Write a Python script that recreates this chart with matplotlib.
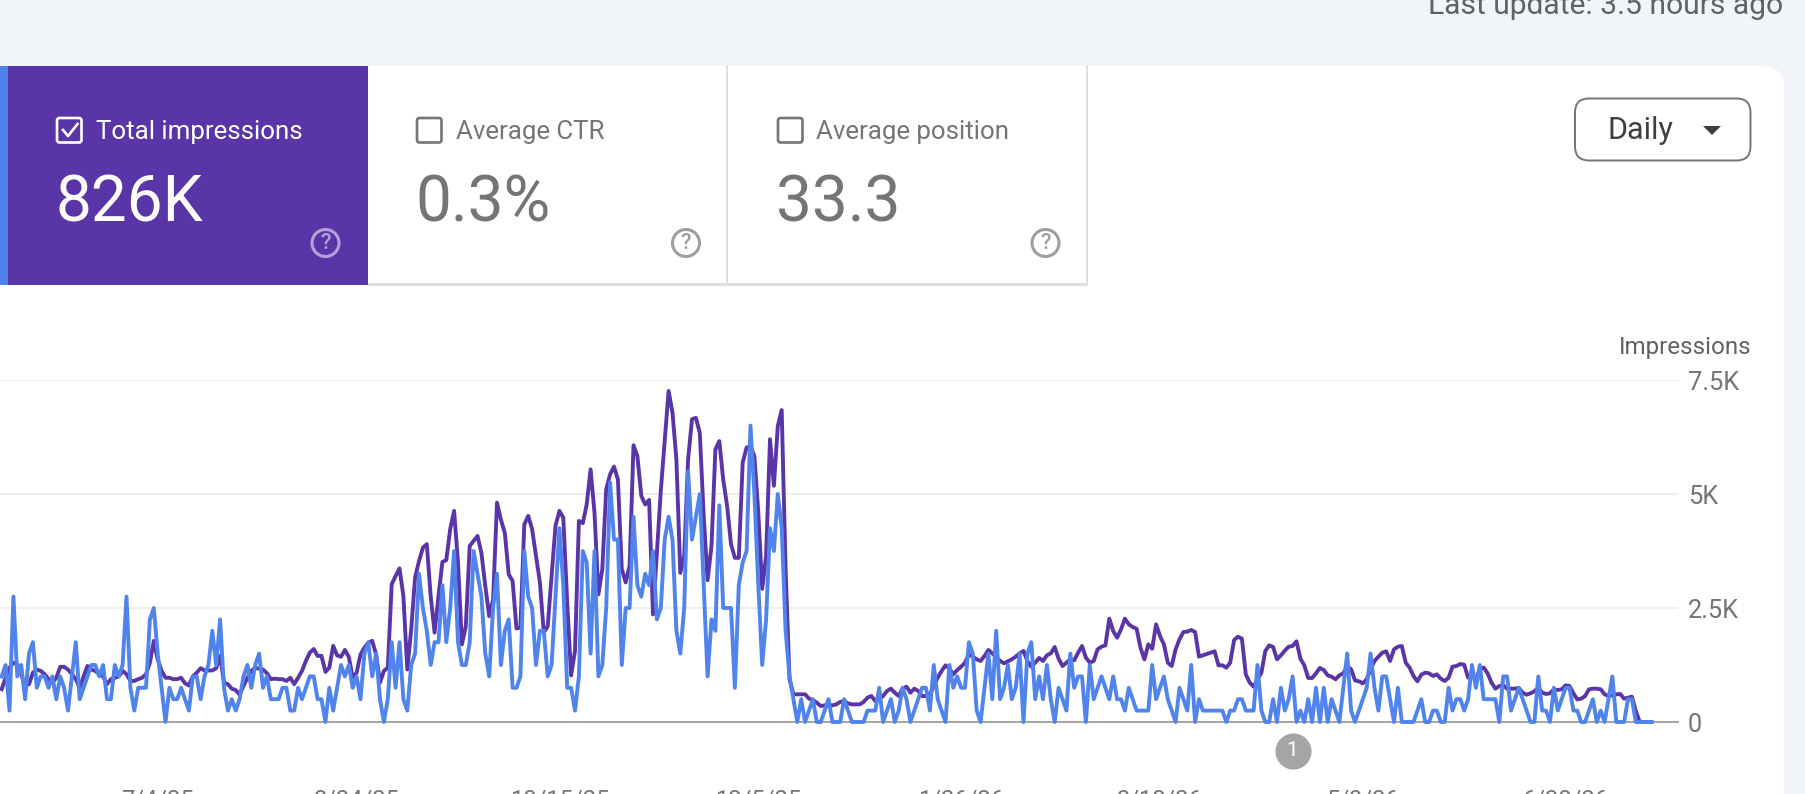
import matplotlib
matplotlib.use("Agg")
import matplotlib.pyplot as plt
import matplotlib.dates as mdates
import pandas as pd
from matplotlib.patches import Rectangle, FancyBboxPatch, Circle, Polygon

plt.rcParams['font.family'] = ['Roboto', 'DejaVu Sans']

START_DATE = "2025-05-25"
TICK_DATES = ["2025-07-04", "2025-08-24", "2025-10-15", "2025-12-05",
              "2026-01-26", "2026-03-18", "2026-05-09", "2026-06-30"]
TICK_LABELS = ["7/4/25", "8/24/25", "10/15/25", "12/5/25",
               "1/26/26", "3/18/26", "5/9/26", "6/30/26"]
Y_TICKS = [0, 2500, 5000, 7500]
Y_LABELS = ["0", "2.5K", "5K", "7.5K"]
ANNOTATION_DATE = "2026-04-21"

impressions_total = [
    720, 970, 1190, 1300, 1260, 1050, 790, 830, 1080, 1150, 1120, 1050, 940, 860, 970, 1210, 1210, 1150, 1050, 940,
    750, 1000, 1230, 1150, 1120, 1050, 1000, 830, 940, 970, 1000, 1120, 1050, 900, 900, 940, 970, 1050, 1300, 1780,
    1370, 1120, 970, 970, 940, 940, 970, 850, 800, 1000, 1080, 1180, 1130, 1130, 1130, 1180, 1450, 860, 830, 730,
    700, 600, 790, 970, 1120, 1190, 1170, 1150, 1070, 940, 950, 940, 940, 900, 970, 830, 970, 1120, 1340, 1520,
    1600, 1450, 1450, 1100, 1190, 1670, 1460, 1430, 1580, 1430, 970, 1080, 1480, 1630,
    1740, 1780, 1480, 860, 1120, 1190, 3020, 3200, 3370, 2760, 1150, 2030, 3170, 3530, 3820, 3900, 2760, 1960, 2760, 3510,
    3550, 4230, 4630, 3500, 1700, 2100, 3860, 3970, 4080, 3710, 2980, 2320, 2690, 4810, 4440, 4150, 3240, 3090, 2050, 2070,
    4330, 4520, 4230, 3640, 3060, 1960, 2100, 3200, 4300, 4630, 4480, 2620, 1020, 1560, 4410, 4360, 4770, 5540, 4590, 2800,
    3350, 5100, 5430, 5600, 5320, 3350, 3060, 3420, 6070, 5830, 4960, 4770, 4870, 2360, 3700, 5070, 6160, 7260, 6780, 5760,
    3270, 3640, 5760, 6640, 6670, 6340, 4520, 3110, 3860, 5980, 6160, 5320, 4740, 3900, 3600, 3600, 5690, 6020, 6040, 5830,
    4590, 2920, 3640, 6200, 5180, 6490, 6840, 3350, 940,
    607, 607, 607, 607, 512, 482, 424, 351, 365, 365, 365, 387, 439, 460, 409, 387, 387, 387, 439, 534,
    570, 460, 497, 570, 680, 731, 643, 570, 731, 775, 643, 731, 680, 570, 570, 607, 789, 972, 1118, 1243,
    1170, 1045, 1140, 1213, 1301, 1484, 1433, 1374, 1338, 1447, 1579, 1506, 1433, 1338, 1287, 1330, 1374, 1433, 1506, 1557,
    1338, 1213, 1301, 1404, 1338, 1462, 1506, 1645, 1389, 1228, 1301, 1374, 1352, 1520, 1667, 1411, 1301, 1338, 1594, 1652,
    1681, 2266, 1996, 1849, 2032, 2266, 2142, 2083, 2047, 1630, 1374, 1703, 1608, 2142, 1886, 1703, 1301, 1228, 1594, 1813,
    1974, 1981, 2018, 1974, 1433, 1462, 1491, 1520, 1550, 1243, 1243, 1192, 1301, 1798,
    1871, 1828, 1045, 863, 775, 936, 1082, 1557, 1681, 1645, 1374, 1462, 1564, 1652, 1667, 1769, 1389, 1243, 965, 965,
    1067, 1184, 1140, 1023, 994, 936, 1023, 1067, 1228, 1155, 914, 892, 848, 936, 1155, 1338, 1433, 1520, 1550, 1338,
    1594, 1652, 1667, 1301, 1192, 1009, 892, 1038, 1082, 1067, 1009, 1045, 950, 899, 972, 1213, 1228, 1272, 1257, 972,
    1009, 936, 1155, 1192, 1067, 863, 731, 789, 804, 731, 731, 731, 746, 643, 599, 629, 673, 753, 643, 614,
    629, 716, 702, 716, 804, 789, 629, 497, 512, 570, 716, 731, 731, 716, 607, 570, 585, 607, 614, 512,
    534, 556, 241, 0, 0, 0, 0,
]

impressions_query = [
    1000, 1250, 250, 2750, 1000, 1250, 500, 1500, 1750, 750, 1000, 1000, 750, 1000, 500, 1000, 750, 250, 1000, 1750,
    500, 750, 1000, 1250, 1250, 1000, 1250, 500, 500, 1250, 1000, 1250, 2750, 750, 250, 750, 750, 750, 2250, 2500,
    1500, 750, 0, 750, 500, 500, 750, 500, 250, 1000, 1000, 500, 1000, 1250, 2000, 1250, 2250, 750, 250, 500,
    250, 500, 1000, 1250, 750, 1250, 1500, 750, 1000, 500, 500, 500, 750, 750, 250, 250, 750, 500, 750, 1000,
    1000, 500, 500, 0, 750, 250, 750, 1250, 1000, 1250, 750, 1000, 500, 1500,
    1750, 1000, 1500, 500, 0, 500, 1750, 750, 1750, 500, 250, 1250, 1500, 3250, 2500, 2000, 1250, 1750, 1750, 3000,
    1750, 2500, 3750, 1750, 1250, 1250, 1750, 3750, 3250, 2750, 1500, 1000, 2500, 3250, 1250, 2000, 2250, 750, 750, 1000,
    3750, 2750, 2500, 1250, 2000, 2000, 1000, 1250, 2750, 4250, 3000, 750, 750, 250, 1000, 3750, 3500, 1500, 3750, 1000,
    1250, 2500, 5250, 4000, 4000, 1250, 2500, 2500, 4500, 3000, 2750, 3250, 3000, 3750, 2250, 2500, 4000, 4500, 4000, 2000,
    1500, 2500, 5500, 4000, 4500, 5000, 3000, 1000, 2250, 2000, 4750, 2500, 2500, 2500, 750, 3000, 3500, 3750, 6500, 5000,
    3000, 1250, 2250, 4250, 3750, 5000, 4250, 2000, 1000,
    500, 0, 500, 0, 250, 500, 0, 0, 250, 500, 0, 0, 0, 500, 250, 0, 0, 0, 0, 250,
    250, 250, 750, 0, 250, 500, 0, 250, 750, 500, 0, 250, 500, 750, 750, 250, 1250, 500, 250, 0,
    1250, 750, 1000, 750, 750, 1750, 1500, 250, 0, 750, 1500, 500, 2000, 500, 750, 1250, 500, 750, 1500, 0,
    1500, 1750, 500, 1000, 500, 1250, 500, 0, 750, 500, 250, 1500, 750, 1000, 1000, 0, 1250, 500, 750, 1000,
    750, 500, 1000, 500, 500, 250, 750, 500, 250, 250, 250, 250, 1250, 500, 750, 1000, 500, 250, 0, 750,
    500, 250, 1250, 0, 500, 250, 250, 250, 250, 250, 250, 0, 250, 250,
    500, 500, 250, 250, 250, 1250, 250, 0, 0, 500, 0, 750, 250, 500, 1000, 0, 250, 0, 500, 0,
    750, 0, 750, 0, 500, 250, 0, 750, 1500, 250, 0, 250, 500, 750, 1500, 750, 250, 1000, 1000, 500,
    0, 750, 0, 0, 0, 0, 250, 500, 0, 0, 250, 250, 0, 0, 750, 250, 500, 500, 250, 500,
    1250, 750, 1250, 500, 500, 500, 500, 0, 1000, 1000, 250, 500, 750, 500, 250, 0, 0, 1000, 250, 250,
    0, 750, 250, 500, 750, 750, 250, 250, 0, 0, 250, 500, 0, 250, 0, 500, 1000, 0, 0, 0,
    500, 500, 0, 0, 0, 0, 0,
]

PURPLE = "#5a35a8"
BLUE = "#5083ec"
PAGE = "#f1f4f9"
GREY_TXT = "#757575"
AXIS_TXT = "#5f6368"

W, H = 1806, 794
fig = plt.figure(figsize=(W / 100, H / 100), dpi=100, facecolor=PAGE)

# page furniture, in pixel coordinates
bg = fig.add_axes([0, 0, 1, 1], zorder=0)
bg.set_xlim(0, W)
bg.set_ylim(H, 0)
bg.axis("off")
bg.add_patch(FancyBboxPatch((-60, 66), 1784 + 60, 900, boxstyle="round,pad=0,rounding_size=22",
                            fc="white", ec="none"))
bg.add_patch(Rectangle((8, 66), 360, 219, fc=PURPLE, ec="none"))
bg.add_patch(Rectangle((0, 66), 8, 219, fc="#4f81ea", ec="none"))
bg.add_patch(Rectangle((368, 283), 719, 2.5, fc="#dedede", ec="none"))
for xv in (727, 1087):
    bg.plot([xv, xv], [66, 285], color="#dedede", lw=1.4)

bg.text(1783, 14, "Last update: 3.5 hours ago", ha="right", va="baseline", fontsize=21.6, color=AXIS_TXT)


def card(cb_x, label_x, value_x, help_x, label, value, col, help_col):
    bg.add_patch(FancyBboxPatch((cb_x + 1, 118), 24.5, 24.5, boxstyle="round,pad=0,rounding_size=2.5",
                                fc="none", ec=col, lw=1.9))
    bg.text(label_x, 139, label, ha="left", va="baseline", fontsize=18.6, color=col)
    bg.text(value_x, 221, value, ha="left", va="baseline", fontsize=46, color=col)
    bg.add_patch(Circle((help_x, 243), 13.5, fc="none", ec=help_col, lw=2.2))
    bg.text(help_x, 243.5, "?", ha="center", va="center", fontsize=15.5, color=help_col, fontweight="medium")


card(56, 96.5, 56, 325.5, "Total impressions", "826K", "white", "#b3a2da")
bg.plot([63, 68, 77.5], [130, 136, 124], color="white", lw=1.9)
card(416, 456, 415.5, 686, "Average CTR", "0.3%", GREY_TXT, "#9e9e9e")
card(777, 816.5, 776, 1045.5, "Average position", "33.3", GREY_TXT, "#9e9e9e")

bg.add_patch(FancyBboxPatch((1575, 98.5), 175.5, 62, boxstyle="round,pad=0,rounding_size=14",
                            fc="white", ec="#757575", lw=1.4))
bg.text(1608, 139, "Daily", ha="left", va="baseline", fontsize=22, color="#3c4043")
bg.add_patch(Polygon([[1703, 126], [1721, 126], [1712, 135]], closed=True, fc="#3c4043", ec="none"))
bg.text(1752, 354, "Impressions", ha="right", va="baseline", fontsize=17.4, color=AXIS_TXT)

# chart
PX_PER_DAY = 3.90
start = pd.Timestamp(START_DATE)
dates_total = pd.date_range(start, periods=len(impressions_total), freq="D")
dates_query = pd.date_range(start, periods=len(impressions_query), freq="D")

ax = fig.add_axes([0, 1 - 722 / H, 1677.7 / W, 342 / H], zorder=1)
ax.patch.set_alpha(0)
x0 = mdates.date2num(start) - 1.7 / PX_PER_DAY
ax.set_xlim(x0, x0 + 1677.7 / PX_PER_DAY)
ax.set_ylim(0, 7500)

for sp in ax.spines.values():
    sp.set_visible(False)
ax.grid(axis="y", color="#ebebeb", lw=1.2, zorder=1)
ax.axhline(0, color="#9e9e9e", lw=1.3, zorder=2, clip_on=False)

ax.plot(dates_total, impressions_total, color=PURPLE, lw=2.8, zorder=3, clip_on=False, solid_joinstyle="round")
ax.plot(dates_query, impressions_query, color=BLUE, lw=2.8, zorder=4, clip_on=False, solid_joinstyle="round")

ax.set_yticks(Y_TICKS)
ax.set_yticklabels(Y_LABELS, fontsize=18.3, color=GREY_TXT)
ax.yaxis.tick_right()
ax.tick_params(axis="y", length=0, pad=7.5)

ax.set_xticks([mdates.date2num(pd.Timestamp(d)) for d in TICK_DATES])
ax.set_xticklabels(TICK_LABELS, fontsize=17, color=GREY_TXT)
ax.tick_params(axis="x", length=0, pad=48)

# annotation badge sits under the baseline
ann_x = mdates.date2num(pd.Timestamp(ANNOTATION_DATE))
ann_y = -28.5 / 342 * 7500
ax.plot([ann_x], [ann_y], "o", ms=26, color="#a5a5a5", mec="none", clip_on=False, zorder=5)
ax.text(ann_x, ann_y, "1", ha="center", va="center", fontsize=15, color="white", zorder=6)

fig.savefig("out.png", dpi=100, facecolor=PAGE)
